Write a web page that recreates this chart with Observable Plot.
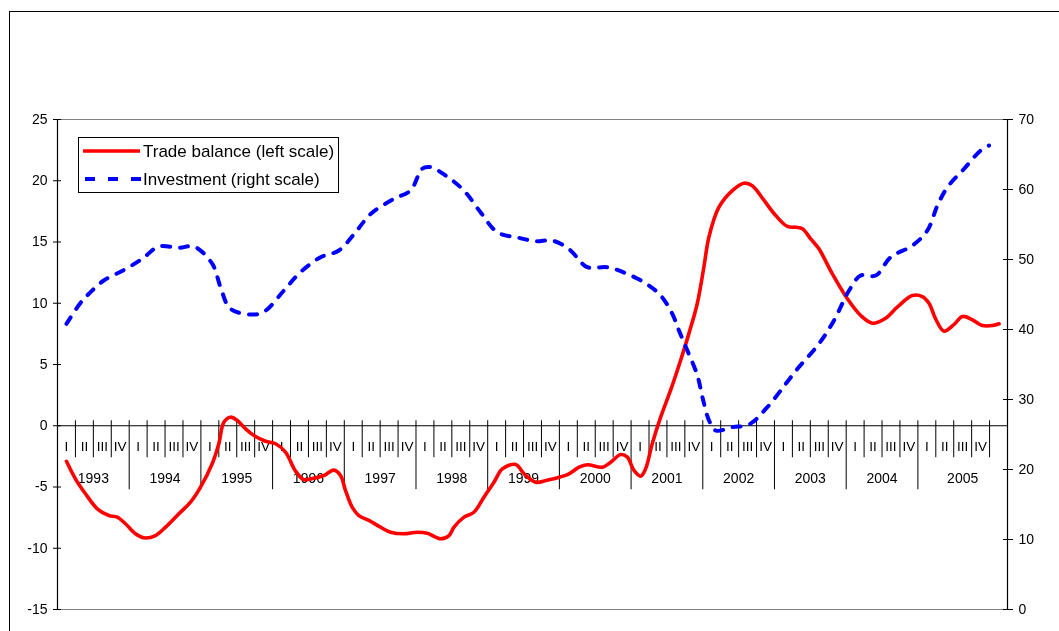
<!DOCTYPE html>
<html><head><meta charset="utf-8">
<script src="https://cdn.jsdelivr.net/npm/d3@7"></script>
<script src="https://cdn.jsdelivr.net/npm/@observablehq/plot@0.6"></script>
<style>
body{margin:0;background:#fff;font-family:"Liberation Sans",Arial,sans-serif}
#wrap{position:relative;width:1059px;height:631px;overflow:hidden}
#chart{position:absolute;left:0;top:0;will-change:transform}
#frame{position:absolute;left:9px;top:11px;width:1100px;height:700px;border:1.5px solid #000;pointer-events:none}
#legend{position:absolute;left:78px;top:137px;will-change:transform}
</style></head><body>
<div id="wrap"><div id="chart"></div><div id="frame"></div><div id="legend"></div></div>
<script>
// ---- data (time in quarters from start of 1993 Q I) ----
const years = [1993,1994,1995,1996,1997,1998,1999,2000,2001,2002,2003,2004,2005];
const quarterNames = ["I","II","III","IV"];
const leftTicks = [-15,-10,-5,0,5,10,15,20,25];
const rightTicks = [0,10,20,30,40,50,60,70];
const seriesNames = ["Trade balance (left scale)","Investment (right scale)"];

const tradeT = [0.50,1.00,1.56,2.22,2.86,3.33,3.79,4.35,4.82,5.47,6.03,6.77,7.42,7.98,8.63,9.00,9.28,9.65,10.03,10.49,11.05,11.61,12.17,12.72,13.28,13.74,14.10,14.86,15.42,15.79,16.07,16.44,16.81,17.37,18.02,18.58,19.32,20.07,20.63,21.37,21.84,22.12,22.68,23.23,23.79,24.35,24.82,25.56,26.03,26.68,27.30,28.00,28.54,29.10,29.56,30.40,30.86,31.42,31.79,32.16,32.53,32.81,33.18,33.65,34.20,34.76,35.22,35.69,36.06,36.34,36.90,37.65,38.30,38.76,39.42,40.07,40.72,41.20,41.56,42.02,42.48,43.23,44.07,44.81,45.46,46.20,46.85,47.69,48.25,48.62,48.99,49.46,50.02,50.49,51.04,51.60,52.16,52.53];
const tradeV = [-2.9,-4.33,-5.55,-6.78,-7.33,-7.46,-8.0,-8.82,-9.15,-8.96,-8.28,-7.19,-6.24,-5.01,-3.1,-1.47,0.29,0.70,0.43,-0.25,-0.88,-1.26,-1.47,-2.16,-3.7,-4.4,-4.35,-4.06,-3.62,-4.06,-5.29,-6.65,-7.33,-7.73,-8.28,-8.69,-8.82,-8.69,-8.77,-9.23,-8.96,-8.28,-7.46,-7.06,-5.83,-4.61,-3.52,-3.16,-3.92,-4.61,-4.45,-4.2,-3.92,-3.38,-3.19,-3.38,-2.98,-2.35,-2.56,-3.65,-4.12,-3.52,-1.47,0.70,2.88,5.33,7.5,9.96,12.94,15.39,17.84,19.2,19.8,19.6,18.39,17.16,16.27,16.2,16.08,15.26,14.44,12.4,10.36,9.0,8.37,8.78,9.68,10.63,10.55,10.0,8.73,7.72,8.27,8.92,8.65,8.18,8.18,8.32];

const investT = [0.50,1.28,1.75,2.58,3.70,4.73,5.65,6.77,7.61,8.63,9.10,9.65,10.95,11.61,12.63,13.56,14.68,15.70,16.63,17.47,18.77,19.70,20.35,20.81,21.65,22.67,23.60,24.54,25.74,26.67,27.60,28.53,29.56,30.67,31.70,32.81,33.65,34.30,34.67,35.14,35.70,35.98,36.35,36.72,37.65,38.58,39.60,40.63,41.28,42.48,43.32,44.16,44.81,45.65,46.48,47.70,48.53,49.09,49.65,50.58,51.50,51.97];
const investV = [40.8,43.8,45.1,47.0,48.5,50.1,51.86,51.67,51.86,49.4,46.0,42.96,42.14,42.7,45.57,48.2,50.33,51.29,53.9,56.5,58.67,59.86,62.96,63.19,62.0,59.86,56.76,53.9,53.1,52.61,52.71,51.5,48.9,48.9,48.04,46.6,44.86,42.24,39.86,37.0,33.43,30.33,27.0,25.57,26.05,26.43,28.9,32.24,34.38,37.96,41.29,45.57,47.71,47.71,50.33,52.0,54.14,57.71,60.33,62.96,65.57,66.29];

// ---- derived tables ----
const toLeft = r => r * 40 / 70 - 15;        // right scale -> left scale
const fromLeft = l => Math.round((l + 15) * 70 / 40);
const trade = tradeT.map((t, i) => ({t, v: tradeV[i]}));
const invest = investT.map((t, i) => ({t, v: investV[i]}));
const nQ = years.length * 4;                  // 52 labelled quarters
const quarters = d3.range(nQ).map(i => ({c: i + 0.5, label: quarterNames[i % 4]}));
const yearLab = years.map((y, i) => ({c: i === years.length - 1 ? (i * 4 + nQ + 1) / 2 : i * 4 + 2, label: String(y)}));
const qTicks = d3.range(1, nQ + 1).filter(i => i % 4 !== 0 || i === nQ);
const yTicks = d3.range(4, nQ, 4);

const font = '"Liberation Sans", Arial, sans-serif';
const chart = Plot.plot({
  width: 1059, height: 631,
  marginLeft: 57, marginRight: 52, marginTop: 119, marginBottom: 22,
  x: {domain: [0, nQ + 1], axis: null},
  y: {domain: [-15, 25], axis: null},
  style: {fontFamily: font, background: "transparent", color: "#000"},
  marks: [
    Plot.ruleY([25, -15], {stroke: "#808080", strokeWidth: 1}),
    Plot.ruleY([0], {stroke: "#000", strokeWidth: 1}),
    Plot.ruleX([0, nQ + 1], {stroke: "#000", strokeWidth: 1.2}),
    Plot.ruleX(qTicks, {x: d => d, y1: () => 0, y2: () => 0, insetTop: -5, insetBottom: -32, stroke: "#000", strokeWidth: 1}),
    Plot.ruleX(yTicks, {x: d => d, y1: () => 0, y2: () => 0, insetTop: -5, insetBottom: -64, stroke: "#000", strokeWidth: 1}),
    Plot.ruleY(leftTicks, {y: d => d, x1: () => 0, x2: () => 0, insetLeft: -4, insetRight: -4, stroke: "#000"}),
    Plot.ruleY(rightTicks.map(toLeft), {y: d => d, x1: () => nQ + 1, x2: () => nQ + 1, insetLeft: -4, insetRight: -6, stroke: "#000"}),
    Plot.axisY({ticks: leftTicks, tickFormat: d => String(d), tickSize: 0, tickPadding: 10, label: null, fontSize: 14, anchor: "left"}),
    Plot.axisY({ticks: rightTicks.map(toLeft), tickFormat: d => String(fromLeft(d)), tickSize: 0, tickPadding: 11, label: null, fontSize: 14, anchor: "right"}),
    Plot.text(quarters, {x: "c", y: () => 0, dy: 21, text: "label", fontSize: 13.5, fill: "#000"}),
    Plot.text(yearLab, {x: "c", y: () => 0, dy: 53, text: "label", fontSize: 14, fill: "#000"}),
    Plot.line(trade, {x: "t", y: "v", stroke: "#ff0000", strokeWidth: 3.6, curve: "catmull-rom"}),
    Plot.line(invest, {x: "t", y: d => toLeft(d.v), stroke: "#0000ff", strokeWidth: 4, strokeDasharray: "8,10", curve: "catmull-rom"})
  ]
});
document.getElementById("chart").appendChild(chart);

// ---- legend ----
const lg = d3.select("#legend").append("svg").attr("width", 262).attr("height", 57)
  .style("font-family", font);
lg.append("rect").attr("x", 0.5).attr("y", 0.5).attr("width", 260).attr("height", 55).attr("fill", "#fff").attr("stroke", "#000");
lg.append("line").attr("x1", 5).attr("x2", 62).attr("y1", 14).attr("y2", 14).attr("stroke", "#ff0000").attr("stroke-width", 3.6);
lg.append("line").attr("x1", 7).attr("x2", 63).attr("y1", 42).attr("y2", 42).attr("stroke", "#0000ff").attr("stroke-width", 4).attr("stroke-dasharray", "10,13");
lg.selectAll("text.l").data(seriesNames).join("text").attr("class", "l")
  .attr("x", 65).attr("y", (d, i) => 14 + i * 28).attr("dy", "0.35em")
  .attr("font-size", 17).text(d => d);
</script>
</body></html>
